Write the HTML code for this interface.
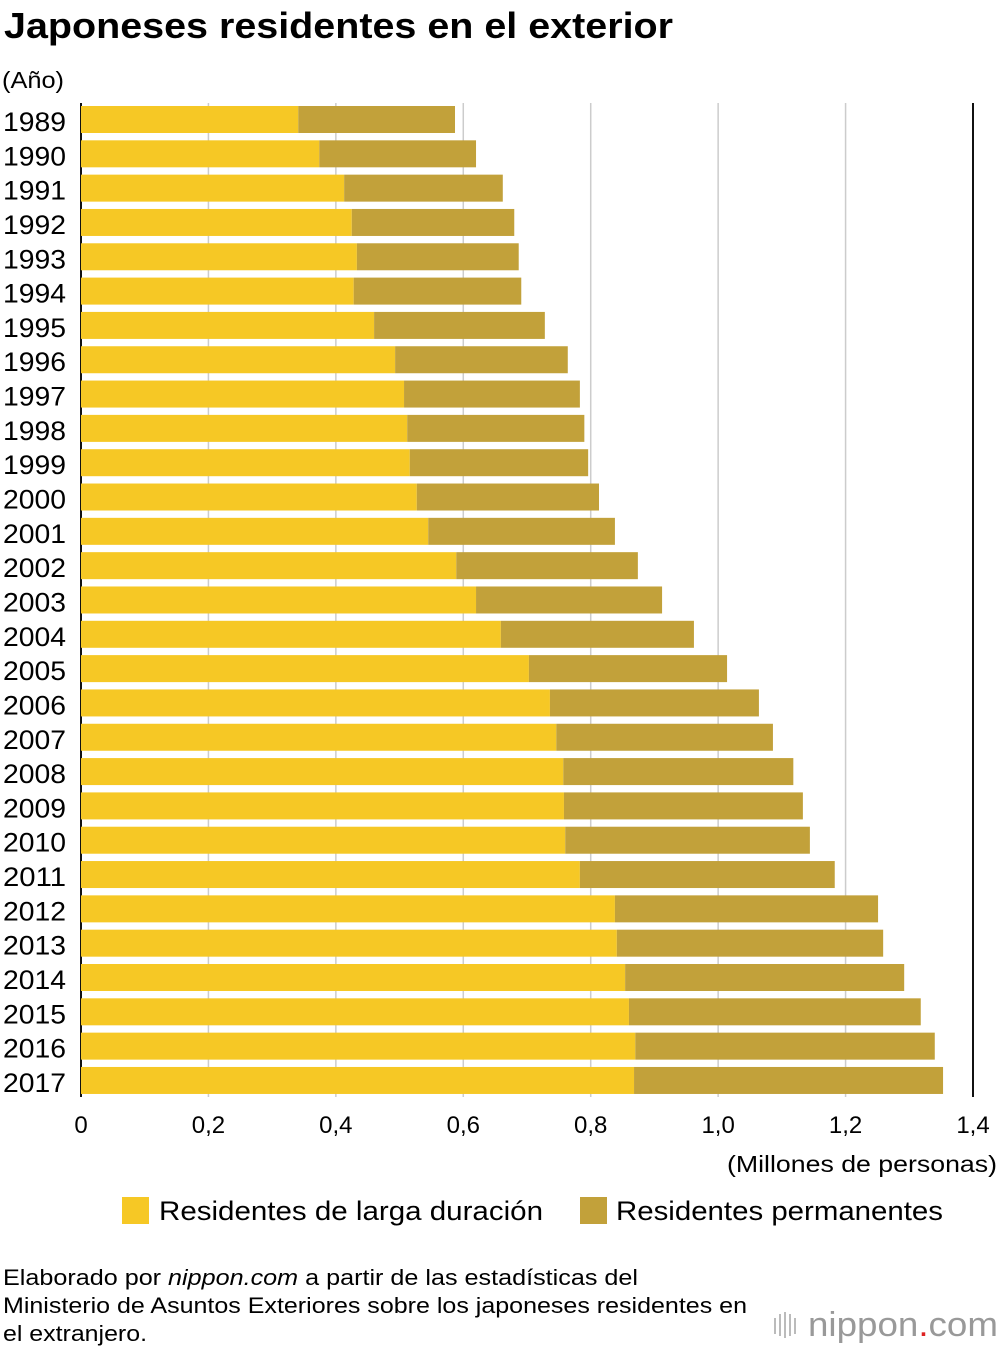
<!DOCTYPE html>
<html><head><meta charset="utf-8"><style>
body{margin:0;background:#fff;font-family:"Liberation Sans",Arial,sans-serif;color:#111}
#wrap{position:relative;width:1000px;height:1350px;overflow:hidden}
svg text{font-family:"Liberation Sans",Arial,sans-serif}
</style></head><body>
<div id="wrap">
<svg id="chart" width="1000" height="1350">
<text x="4" y="38" font-size="36" font-weight="bold" textLength="669" lengthAdjust="spacingAndGlyphs">Japoneses residentes en el exterior</text>
<text x="2" y="88" font-size="23" textLength="62" lengthAdjust="spacingAndGlyphs">(Año)</text>
<g id="grid"></g><g id="bars"></g><g id="ylabels"></g><g id="xlabels"></g>
<text x="727" y="1172" font-size="23" textLength="270" lengthAdjust="spacingAndGlyphs">(Millones de personas)</text>
<rect x="122" y="1197" width="27" height="27" fill="#F6C825"/>
<text x="159" y="1220" font-size="27" textLength="384" lengthAdjust="spacingAndGlyphs">Residentes de larga duración</text>
<rect x="580" y="1197" width="27" height="27" fill="#C2A13A"/>
<text x="616" y="1220" font-size="27" textLength="327" lengthAdjust="spacingAndGlyphs">Residentes permanentes</text>
<text font-size="22"><tspan x="3" y="1285" textLength="635" lengthAdjust="spacingAndGlyphs">Elaborado por <tspan font-style="italic">nippon.com</tspan> a partir de las estadísticas del</tspan><tspan x="3" y="1313" textLength="744" lengthAdjust="spacingAndGlyphs">Ministerio de Asuntos Exteriores sobre los japoneses residentes en</tspan><tspan x="3" y="1341" textLength="144" lengthAdjust="spacingAndGlyphs">el extranjero.</tspan></text>
<text x="808" y="1336" font-size="34" fill="#999" textLength="190" lengthAdjust="spacingAndGlyphs">nippon<tspan fill="#d22">.</tspan>com</text>
<g fill="#bbb"><rect x="774" y="1318" width="2" height="16"/><rect x="779" y="1314" width="2" height="22"/><rect x="784" y="1312" width="2" height="26"/><rect x="789" y="1314" width="2" height="22"/><rect x="794" y="1318" width="2" height="16"/></g>
</svg>
</div>
<script>
const years=[1989,1990,1991,1992,1993,1994,1995,1996,1997,1998,1999,2000,2001,2002,2003,2004,2005,2006,2007,2008,2009,2010,2011,2012,2013,2014,2015,2016,2017];
const longTerm=[0.341,0.374,0.413,0.425,0.433,0.428,0.460,0.493,0.507,0.512,0.516,0.527,0.545,0.589,0.620,0.659,0.703,0.736,0.746,0.757,0.758,0.760,0.783,0.838,0.841,0.854,0.860,0.870,0.868];
const permanent=[0.246,0.246,0.249,0.255,0.254,0.263,0.268,0.271,0.276,0.278,0.280,0.286,0.293,0.285,0.292,0.303,0.311,0.328,0.340,0.361,0.375,0.384,0.400,0.413,0.418,0.438,0.458,0.470,0.485];
const xTicks=[0,0.2,0.4,0.6,0.8,1.0,1.2,1.4];
const xTickLabels=["0","0,2","0,4","0,6","0,8","1,0","1,2","1,4"];
const NS="http://www.w3.org/2000/svg";
const x0=81,x1=973,xMax=1.4;
const xs=v=>x0+v/xMax*(x1-x0);
const rowTop=i=>106+i*34.32;
const bh=27;
function mk(tag,attrs,parent){const e=document.createElementNS(NS,tag);for(const k in attrs)e.setAttribute(k,attrs[k]);parent.appendChild(e);return e;}
const grid=document.getElementById('grid'),bars=document.getElementById('bars'),yl=document.getElementById('ylabels'),xl=document.getElementById('xlabels');
xTicks.forEach((t,i)=>{
 const last=i===xTicks.length-1;
 const l=mk('line',{x1:xs(t),x2:xs(t),y1:103,y2:1097,stroke:(i===0||last)?'#111':'#ccc','stroke-width':(i===0||last)?2:1.5},grid);
 
 
 const tx=mk('text',{x:xs(t),y:1133,'font-size':24,'text-anchor':'middle'},xl);
 tx.textContent=xTickLabels[i];
 
 
});
years.forEach((y,i)=>{
 const top=rowTop(i);
 const a=mk('rect',{x:xs(0),y:top,width:xs(longTerm[i])-xs(0),height:bh,fill:'#F6C825'},bars);
 
 
 const b=mk('rect',{x:xs(longTerm[i]),y:top,width:xs(longTerm[i]+permanent[i])-xs(longTerm[i]),height:bh,fill:'#C2A13A'},bars);
 
 
 const t=mk('text',{x:3,y:top+bh-2,'font-size':27,textLength:63,lengthAdjust:'spacingAndGlyphs'},yl);
 t.textContent=y;
 
 
});
</script>
</body></html>
